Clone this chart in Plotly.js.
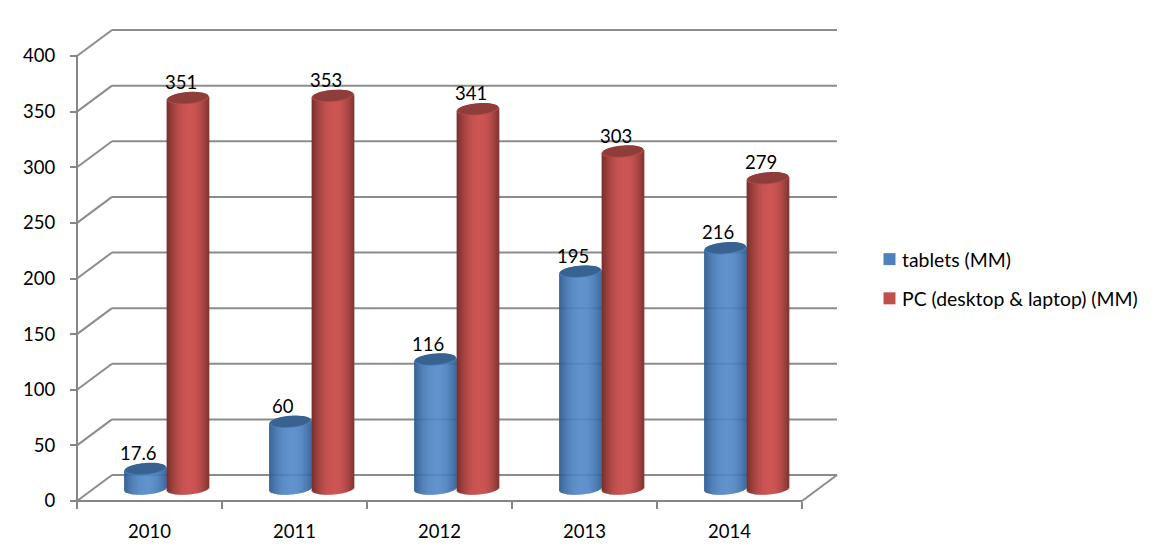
<!DOCTYPE html>
<html><head><meta charset="utf-8">
<script src="https://cdn.plot.ly/plotly-3.0.1.min.js"></script>
<style>html,body{margin:0;padding:0;background:#fff}</style></head>
<body><div id="chart" style="width:1162px;height:559px"></div>
<script>
const categories = ['2010','2011','2012','2013','2014'];
const tablets = [17.6, 60, 116, 195, 216];
const pcs = [351, 353, 341, 303, 279];
const tabletLabels = ['17.6','60','116','195','216'];
const pcLabels = ['351','353','341','303','279'];
const yTicks = [0,50,100,150,200,250,300,350,400];
const seriesNames = ['tablets (MM)','PC (desktop & laptop) (MM)'];

// pixel scales of the front plane
const PXX = 145, PXY = 1.1125, PAD = 4;
const plotL = 77, plotR = 837, plotT = 30, plotB = 501;
const dx = 35/PXX, dy = 26/PXY;      // depth of the box
const floor = 11;                    // cylinders stand mid-depth
const halfW = 0.146, cx = [-0.029, 0.264];
const capH = 5.8/PXY, tilt = 1.6/PXY, N = 42;
const grid = '#8c8c8c', axisC = '#868686';
const F = 'Lato, "Open Sans", sans-serif';

const mix = (a,b,t)=>'rgb('+a.map((v,i)=>Math.round(v+(b[i]-v)*t)).join(',')+')';
const shade = [
  {edgeL:[44,90,142], edgeR:[48,96,150], mid:[82,136,200]},
  {edgeL:[118,46,44], edgeR:[128,52,50], mid:[205,86,84]}
];
function strip(s,u){
  const v = u<0.1 ? (u-0.1)/1.1 : (u-0.1)/0.9;
  const t = 1-Math.pow(Math.abs(v),2.0);
  return mix(v<0?shade[s].edgeL:shade[s].edgeR, shade[s].mid, t);
}

const traces = [];
[tablets,pcs].forEach((vals,s)=>{
  for(let k=0;k<N;k++){
    const u = (k+0.5)/N*2-1;
    const dip = capH*Math.sqrt(Math.max(0,1-u*u));
    const tiltY = u*tilt;
    traces.push({type:'bar', x:categories,
      y:vals.map(v=>v+dip),
      base:vals.map(()=>floor+tiltY-dip),
      offset:cx[s]-halfW+(k/N)*2*halfW,
      width:(2*halfW/N)*1.4,
      marker:{color:strip(s,u),line:{width:0}},
      showlegend:false,hoverinfo:'skip'});
  }
});
seriesNames.forEach((n,s)=>{
  traces.push({type:'bar',x:[null],y:[null],name:n,legendgroup:'g'+s,
    marker:{color:['#4f81bd','#c0504d'][s]},hoverinfo:'skip'});
});

const shapes = [];
const ln=(x0,y0,x1,y1,c)=>shapes.push({type:'line',xref:'x',yref:'y',x0,y0,x1,y1,layer:'below',line:{color:c,width:2}});
yTicks.forEach(k=>{
  ln(-0.5+dx,k+dy,4.5+dx,k+dy,grid);
  ln(-0.5,k,-0.5+dx,k+dy,grid);
});
ln(4.5,0,4.5+dx,dy,grid);
ln(-0.5,0,4.5,0,axisC);
ln(-0.5,0,-0.5,400,axisC);

function cap(xc,yc,scale,fill){
  let d='';
  for(let a=0;a<40;a++){
    const th=a/40*2*Math.PI, c=Math.cos(th), sn=Math.sin(th);
    const X=xc+halfW*scale*c, Y=yc+capH*scale*sn+tilt*c;
    d+=(a?'L':'M')+X.toFixed(4)+','+Y.toFixed(3);
  }
  shapes.push({type:'path',xref:'x',yref:'y',path:d+'Z',layer:'above',fillcolor:fill,line:{width:0}});
}
const capColors=[['#4a7db8','#386290'],['#b04b49','#8f3d3b']];
const annotations=[];
[[tablets,tabletLabels],[pcs,pcLabels]].forEach(([vals,labs],s)=>{
  vals.forEach((v,i)=>{
    const xc=i+cx[s], yc=v+floor;
    cap(xc,yc,1,capColors[s][0]);
    cap(xc,yc+0.6,0.96,capColors[s][1]);
    annotations.push({xref:'x',yref:'y',x:xc-7/PXX,y:yc,yshift:16,text:labs[i],showarrow:false,
      xanchor:'center',yanchor:'middle',font:{family:F,size:18.5,color:'#000'}});
  });
});

const plotW = plotR-plotL+2*PAD, plotH = plotB-plotT+2*PAD;
const layout = {
  width:1162,height:559,paper_bgcolor:'#fff',plot_bgcolor:'rgba(0,0,0,0)',
  margin:{l:plotL-PAD,r:1162-plotR-PAD,t:plotT-PAD,b:559-plotB-PAD,pad:0},
  barmode:'overlay',
  font:{family:F,size:18.5,color:'#000'},
  xaxis:{type:'category',categoryorder:'array',categoryarray:categories,
    range:[-0.5-PAD/PXX,-0.5+(plotR-plotL+PAD)/PXX],
    tickson:'boundaries',ticks:'outside',ticklen:7,tickwidth:2,tickcolor:axisC,
    showgrid:false,zeroline:false,showline:false,fixedrange:true,
    anchor:'free',position:PAD/plotH,ticklabelstandoff:17,tickfont:{family:F,size:18.5,color:'#000'}},
  yaxis:{range:[-PAD/PXY,(plotB-plotT+PAD)/PXY],tickmode:'array',tickvals:yTicks,ticktext:yTicks.map(String),
    ticks:'outside',ticklen:7,tickwidth:2,tickcolor:axisC,
    showgrid:false,zeroline:false,showline:false,fixedrange:true,
    anchor:'free',position:PAD/plotW,ticklabelstandoff:11,tickfont:{family:F,size:18.5,color:'#000'}},
  showlegend:true,
  legend:{x:877/1162,y:1-240/559,xref:'container',yref:'container',xanchor:'left',yanchor:'top',
    bgcolor:'rgba(0,0,0,0)',font:{family:F,size:19.4,color:'#000'},
    tracegroupgap:11,indentation:-15,itemclick:false,itemdoubleclick:false},
  shapes,annotations
};
Plotly.newPlot('chart',traces,layout,{displayModeBar:false,staticPlot:true}).then(()=>{
  document.querySelectorAll('.legend .legendsymbols').forEach(g=>g.setAttribute('transform','translate(7.5,0)'));
});
</script></body></html>
